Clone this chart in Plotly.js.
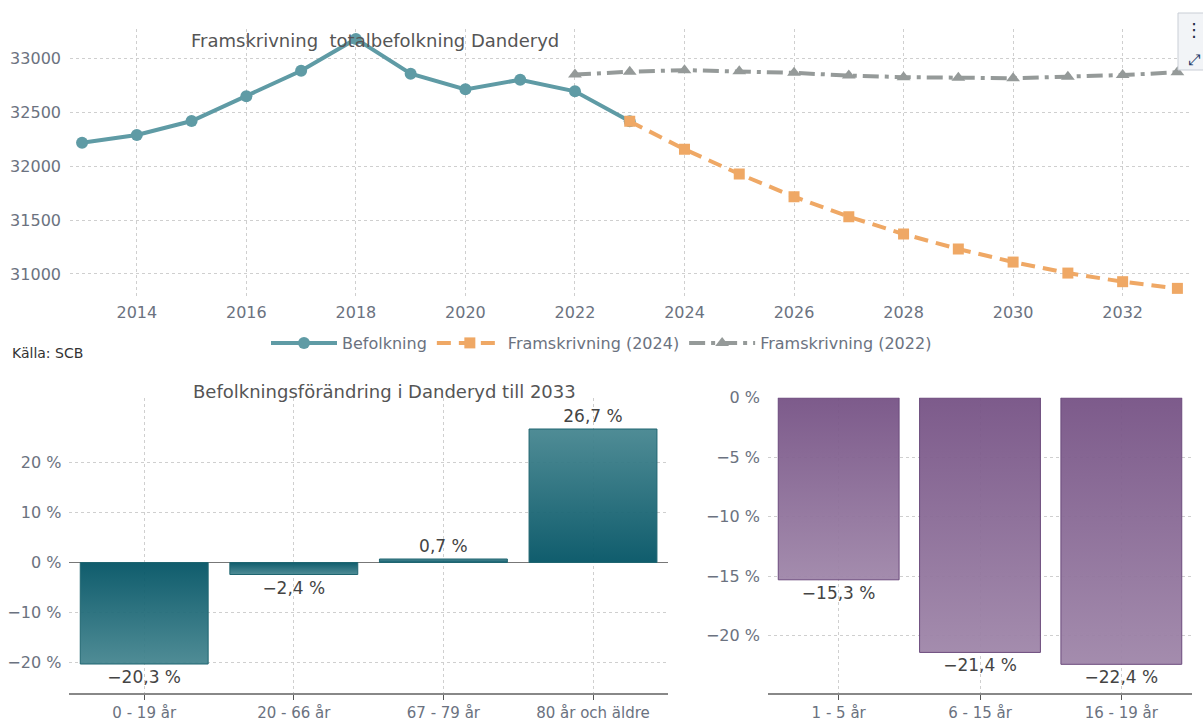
<!DOCTYPE html>
<html><head><meta charset="utf-8">
<script src="https://cdn.plot.ly/plotly-3.0.1.min.js"></script>
<style>html,body{margin:0;padding:0;background:#fff;overflow:hidden}#chart{width:1203px;height:720px}</style>
</head><body><div id="chart"></div>
<script>
// ---- Data ----
const befYears = [2013,2014,2015,2016,2017,2018,2019,2020,2021,2022,2023];
const befValues = [32217,32289,32418,32647,32885,33180,32857,32712,32801,32694,32415];
const proj2024Years = [2023,2024,2025,2026,2027,2028,2029,2030,2031,2032,2033];
const proj2024Values = [32415,32156,31927,31716,31531,31370,31231,31110,31008,30928,30866];
const proj2022Years = [2022,2023,2024,2025,2026,2027,2028,2029,2030,2031,2032,2033];
const proj2022Values = [32850,32875,32890,32880,32865,32840,32825,32820,32815,32830,32845,32870];
const ageGroups = ['0 - 19 år','20 - 66 år','67 - 79 år','80 år och äldre'];
const ageChange = [-20.3,-2.4,0.7,26.7];
const youthGroups = ['1 - 5 år','6 - 15 år','16 - 19 år'];
const youthChange = [-15.3,-21.4,-22.4];
const ageTicks = [-20,-10,0,10,20];
const youthTicks = [-20,-15,-10,-5,0];

const FONT = 'DejaVu Sans, sans-serif';
const TICK = '#6b7280';
const GRID = '#cfcfcf';

function fmtPct(v){
  return (v < 0 ? '\u2212' : '') + Math.abs(v).toFixed(1).replace('.', ',') + ' %';
}
function fmtTick(v){
  return (v < 0 ? '\u2212' : '') + Math.abs(v) + ' %';
}

const traces = [
  {type:'scatter', mode:'lines+markers', name:'Befolkning', x:befYears, y:befValues,
   line:{color:'#5f9ba5', width:4}, marker:{symbol:'circle', size:12, color:'#5f9ba5'},
   xaxis:'x', yaxis:'y'},
  {type:'scatter', mode:'lines+markers', name:'Framskrivning (2024)', x:proj2024Years, y:proj2024Values,
   line:{color:'#efa865', width:4, dash:'14px,8px'}, marker:{symbol:'square', size:11, color:'#efa865'},
   xaxis:'x', yaxis:'y'},
  {type:'scatter', mode:'lines+markers', name:'Framskrivning (2022)', x:proj2022Years, y:proj2022Values,
   line:{color:'#959a99', width:4, dash:'16px,6px,4px,6px'}, marker:{symbol:'triangle-up', size:12, color:'#959a99'},
   xaxis:'x', yaxis:'y'},
  {type:'bar', x:ageGroups, y:ageChange, text:ageChange.map(fmtPct), textposition:'outside',
   textfont:{family:FONT, size:17, color:'#444'}, cliponaxis:false, showlegend:false,
   marker:{color:'#2a7079', line:{color:'#1f6570', width:1}}, xaxis:'x2', yaxis:'y2', hoverinfo:'skip'},
  {type:'bar', x:youthGroups, y:youthChange, text:youthChange.map(fmtPct), textposition:'outside',
   textfont:{family:FONT, size:17, color:'#444'}, cliponaxis:false, showlegend:false,
   marker:{color:'#8b6a98', line:{color:'#6b4a7c', width:1}}, xaxis:'x3', yaxis:'y3', hoverinfo:'skip'}
];

const baseAxis = {gridcolor:GRID, griddash:'dot', gridwidth:1, tickfont:{family:FONT, size:16, color:TICK}, zeroline:false, fixedrange:true};
const catFont = {family:FONT, size:15, color:TICK};

const layout = {
  width:1203, height:720, margin:{l:0,r:0,t:0,b:0},
  paper_bgcolor:'#fff', plot_bgcolor:'#fff',
  separators:', ', bargap:0.145, showlegend:true,
  font:{family:FONT, color:TICK},
  legend:{orientation:'h', x:0.5, xanchor:'center', y:1-343/720, yanchor:'middle', itemwidth:66,
          font:{family:FONT, size:16, color:TICK}},
  xaxis:Object.assign({}, baseAxis, {domain:[70/1203, 1190/1203], range:[2012.78, 2033.23], dtick:2, tick0:2014,
          showline:false, ticks:'', ticklabelstandoff:4, anchor:'y'}),
  yaxis:Object.assign({}, baseAxis, {domain:[1-297/720, 1-29.3/720], range:[30786, 33269], dtick:500, tick0:31000,
          tickformat:'d', showline:false, ticks:'', ticklabelstandoff:8, anchor:'x'}),
  xaxis2:Object.assign({}, baseAxis, {domain:[69.4/1203, 667.8/1203], type:'category', showline:true, linecolor:'#888', linewidth:1.5,
          ticks:'outside', ticklen:5, tickcolor:'#555', tickfont:catFont, ticklabelstandoff:0, anchor:'y2'}),
  yaxis2:Object.assign({}, baseAxis, {domain:[1-693/720, 1-398/720], range:[-26.1, 32.9], tickmode:'array',
          tickvals:ageTicks, ticktext:ageTicks.map(fmtTick),
          zeroline:true, zerolinecolor:'#777', zerolinewidth:1, ticks:'', ticklabelstandoff:7, anchor:'x2'}),
  xaxis3:Object.assign({}, baseAxis, {domain:[768/1203, 1192/1203], type:'category', showline:true, linecolor:'#888', linewidth:1.5,
          ticks:'outside', ticklen:5, tickcolor:'#555', tickfont:catFont, ticklabelstandoff:0, anchor:'y3'}),
  yaxis3:Object.assign({}, baseAxis, {domain:[1-693/720, 1-397.7/720], range:[-24.81, 0], tickmode:'array',
          tickvals:youthTicks, ticktext:youthTicks.map(fmtTick),
          ticks:'', ticklabelstandoff:7, anchor:'x3'}),
  annotations:[
    {text:'Framskrivning\u00a0 totalbefolkning Danderyd', xref:'paper', yref:'paper', x:375/1203, y:1-40/720,
     xanchor:'center', yanchor:'middle', showarrow:false, font:{family:FONT, size:18, color:'#555'}},
    {text:'Befolkningsförändring i Danderyd till 2033', xref:'paper', yref:'paper', x:384/1203, y:1-391.7/720,
     xanchor:'center', yanchor:'middle', showarrow:false, font:{family:FONT, size:18, color:'#555'}},
    {text:'Källa: SCB', xref:'paper', yref:'paper', x:10/1203, y:1-353/720,
     xanchor:'left', yanchor:'middle', showarrow:false, font:{family:FONT, size:14, color:'#333'}},
    {text:'\u22EE', xref:'paper', yref:'paper', x:1194/1203, y:1-30/720,
     xanchor:'center', yanchor:'middle', showarrow:false, font:{family:FONT, size:18, color:'#1f2a44'}},
    {text:'\u2922', xref:'paper', yref:'paper', x:1194/1203, y:1-60/720,
     xanchor:'center', yanchor:'middle', showarrow:false, font:{family:FONT, size:15, color:'#1f3a6a'}}
  ],
  shapes:[
    {type:'rect', xref:'paper', yref:'paper', x0:1178/1203, x1:1210/1203, y0:1-70/720, y1:1-13/720,
     fillcolor:'#f2f4f7', line:{color:'#c9ced6', width:1}, layer:'above'}
  ]
};

Plotly.newPlot('chart', traces, layout, {displayModeBar:false, staticPlot:true}).then(gd => {
  const svg = gd.querySelector('.main-svg');
  const ns = 'http://www.w3.org/2000/svg';
  let defs = svg.querySelector('defs');
  if (!defs) { defs = document.createElementNS(ns, 'defs'); svg.insertBefore(defs, svg.firstChild); }
  function addGrad(id, top, bottom){
    const g = document.createElementNS(ns, 'linearGradient');
    g.setAttribute('id', id); g.setAttribute('x1','0'); g.setAttribute('y1','0'); g.setAttribute('x2','0'); g.setAttribute('y2','1');
    [[0, top],[1, bottom]].forEach(([o,c]) => {
      const s = document.createElementNS(ns, 'stop');
      s.setAttribute('offset', o); s.setAttribute('stop-color', c); g.appendChild(s);
    });
    defs.appendChild(g);
  }
  addGrad('tealPos', '#468690', '#035465');
  addGrad('tealNeg', '#035465', '#468690');
  addGrad('purpNeg', '#765285', '#9f86a9');
  gd.querySelectorAll('.barlayer .trace').forEach(tr => {
    const paths = tr.querySelectorAll('.point path');
    const teal = paths.length === ageChange.length;
    const vals = teal ? ageChange : youthChange;
    paths.forEach((p, i) => {
      const v = vals[i];
      p.style.fill = teal ? (v >= 0 ? 'url(#tealPos)' : 'url(#tealNeg)') : 'url(#purpNeg)';
      p.style.fillOpacity = '0.95';
    });
  });
});
</script>
</body></html>
